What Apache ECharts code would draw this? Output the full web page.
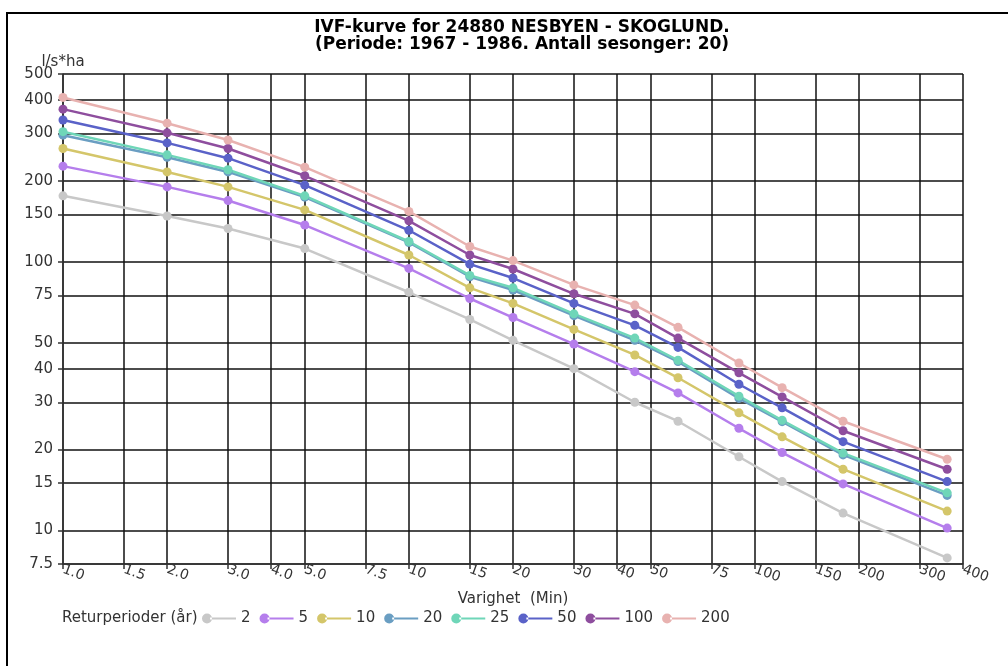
<!DOCTYPE html>
<html>
<head>
<meta charset="utf-8">
<script src="https://cdn.jsdelivr.net/npm/echarts@6/dist/echarts.min.js"></script>
<style>
	html, body { margin: 0; padding: 0; background: #fff; }
	#chart { width: 1008px; height: 666px; }
</style>
</head>
<body>
<div id="chart"></div>
<script>
// varighet i minutter
const durations = [1, 2, 3, 5, 10, 15, 20, 30, 45, 60, 90, 120, 180, 360]
const returnPeriods = ['2', '5', '10', '20', '25', '50', '100', '200']
const values2 = [176, 148, 133, 112, 77, 61, 51, 40, 30, 25.5, 18.8, 15.2, 11.6, 7.9]
const values5 = [227, 190, 169, 137, 94.5, 73, 62, 49.4, 39, 32.5, 24, 19.5, 14.9, 10.2]
const values10 = [264, 216, 190, 156, 106, 80, 70, 56, 45, 37, 27.4, 22.3, 16.9, 11.8]
const values20 = [296, 245, 216, 174, 118, 88, 78.5, 63, 51, 42.5, 31, 25.4, 19.1, 13.5]
const values25 = [305, 250, 220, 176, 119, 89, 80, 64, 52, 43, 31.6, 25.7, 19.4, 13.8]
const values50 = [337, 277, 243, 193, 131, 98, 87, 70, 58, 48, 35, 28.6, 21.4, 15.2]
const values100 = [370, 302, 264, 209, 142, 106, 94, 76, 64, 52, 38.6, 31.4, 23.5, 16.9]
const values200 = [409, 328, 284, 225, 154, 114, 101, 82, 69, 57, 42, 34, 25.5, 18.4]

const xTicks = [1, 1.5, 2, 3, 4, 5, 7.5, 10, 15, 20, 30, 40, 50, 75, 100, 150, 200, 300, 400]
const xTickLabels = ['1.0', '1.5', '2.0', '3.0', '4.0', '5.0', '7.5', '10', '15', '20', '30', '40', '50', '75', '100', '150', '200', '300', '400']
const yTicks = [7.5, 10, 15, 20, 30, 40, 50, 75, 100, 150, 200, 300, 400, 500]
const yTickLabels = ['7.5', '10', '15', '20', '30', '40', '50', '75', '100', '150', '200', '300', '400', '500']

const seriesValues = [values2, values5, values10, values20, values25, values50, values100, values200]
const colors = ['#c8c8c8', '#b57eec', '#d4c66a', '#6a9ec2', '#6fd6b8', '#5a62c8', '#8e4e9e', '#e8b2b0']

const font = 'DejaVu Sans'

function tickLabel(ticks, labels, val) {
	for (let i = 0; i < ticks.length; i++) {
		if (Math.abs(ticks[i] - val) < 1e-6 * ticks[i]) {
			return labels[i]
		}
	}
	return ''
}

const chart = echarts.init(document.getElementById('chart'))
const option = {
	animation: false,
	color: colors,
	grid: {
		left: 63,
		right: 45,
		top: 74,
		bottom: 102
	},
	graphic: [
		{
			type: 'rect',
			shape: { x: 7, y: 13, width: 1020, height: 680 },
			style: { fill: 'none', stroke: '#000', lineWidth: 2 }
		},
		{
			type: 'text',
			x: 522,
			y: 19,
			style: {
				text: 'IVF-kurve for 24880 NESBYEN - SKOGLUND.\n(Periode: 1967 - 1986. Antall sesonger: 20)',
				font: 'bold 17px "DejaVu Sans"',
				fill: '#000',
				align: 'center',
				textAlign: 'center',
				verticalAlign: 'top',
				lineHeight: 17
			}
		},
		{
			type: 'text',
			x: 62,
			y: 611,
			style: {
				text: 'Returperioder (år)',
				font: '15px "DejaVu Sans"',
				fill: '#333'
			}
		}
	],
	legend: {
		left: 202,
		top: 611,
		padding: 0,
		itemWidth: 34,
		itemHeight: 10,
		itemGap: 9,
		icon: 'path://M0,5 A5,5 0 1,0 10,5 A5,5 0 1,0 0,5 Z M8,4 L34,4 L34,6 L8,6 Z',
		textStyle: {
			fontFamily: font,
			fontSize: 15,
			color: '#333'
		},
		data: returnPeriods
	},
	xAxis: {
		type: 'log',
		min: 1,
		max: 400,
		name: 'Varighet  (Min)',
		nameLocation: 'middle',
		nameGap: 28,
		nameTextStyle: {
			fontFamily: font,
			fontSize: 15,
			color: '#333'
		},
		axisLine: {
			show: true,
			lineStyle: { color: '#333', width: 1.5 }
		},
		axisTick: {
			show: true,
			length: 5,
			customValues: xTicks,
			lineStyle: { color: '#333', width: 1.5 }
		},
		axisLabel: {
			customValues: xTicks,
			rotate: -20,
			margin: 5,
			fontFamily: font,
			fontSize: 14,
			color: '#333',
			formatter: function (val) {
				return tickLabel(xTicks, xTickLabels, val)
			}
		},
		splitLine: {
			show: true,
			lineStyle: { color: '#111', width: 1.5 }
		},
		minorTick: { show: false }
	},
	yAxis: {
		type: 'log',
		min: 7.5,
		max: 500,
		name: 'l/s*ha',
		nameLocation: 'end',
		nameGap: 4,
		nameMoveOverlap: false,
		nameTextStyle: {
			fontFamily: font,
			fontSize: 15,
			color: '#333'
		},
		axisLine: {
			show: true,
			lineStyle: { color: '#333', width: 1.5 }
		},
		axisTick: {
			show: true,
			length: 5,
			customValues: yTicks,
			lineStyle: { color: '#333', width: 1.5 }
		},
		axisLabel: {
			customValues: yTicks,
			margin: 10,
			fontFamily: font,
			fontSize: 15,
			color: '#333',
			formatter: function (val) {
				return tickLabel(yTicks, yTickLabels, val)
			}
		},
		splitLine: {
			show: true,
			lineStyle: { color: '#111', width: 1.5 }
		}
	},
	series: returnPeriods.map(function (name, i) {
		return {
			name: name,
			type: 'line',
			symbol: 'circle',
			symbolSize: 9,
			lineStyle: { width: 2.5 },
			data: durations.map(function (d, j) {
				return [d, seriesValues[i][j]]
			})
		}
	})
}
chart.setOption(option)
</script>
</body>
</html>
